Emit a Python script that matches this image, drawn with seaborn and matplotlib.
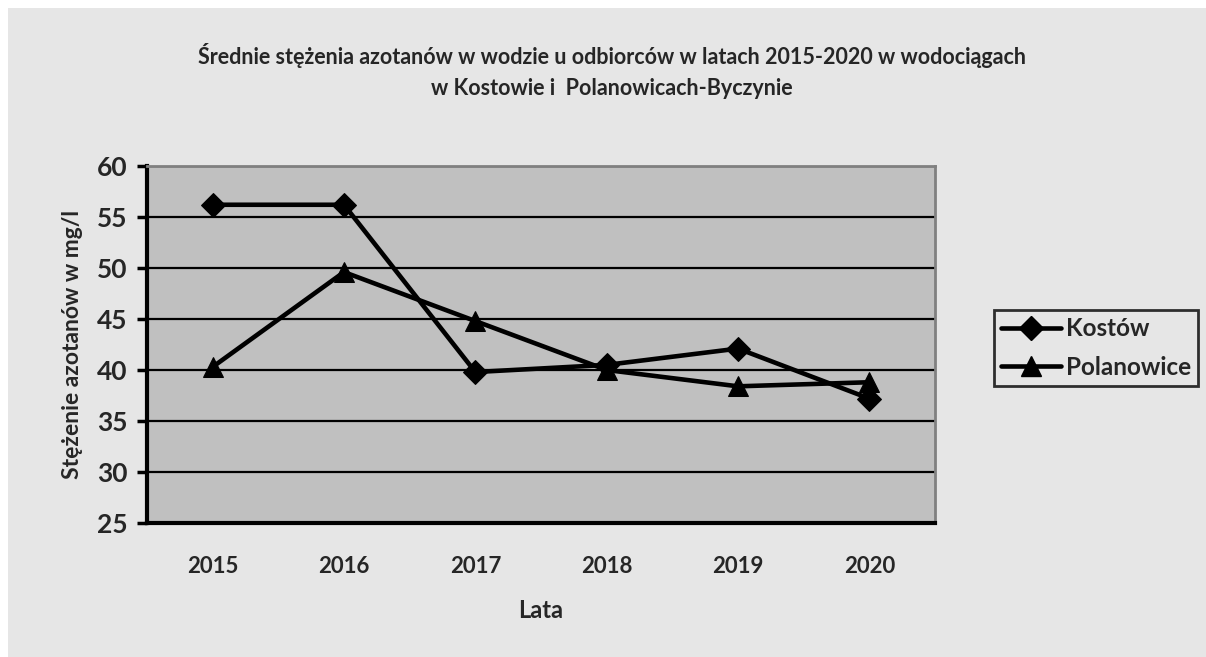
import matplotlib
matplotlib.use("Agg")
import matplotlib.pyplot as plt
import seaborn as sns
import pandas as pd
from matplotlib.patches import Rectangle
from matplotlib.lines import Line2D
from matplotlib.ticker import FixedLocator, NullFormatter

years = [2015, 2016, 2017, 2018, 2019, 2020]
kostow = [56.2, 56.2, 39.8, 40.5, 42.1, 37.2]
polanowice = [40.3, 49.6, 44.8, 40.0, 38.4, 38.8]
series_names = ["Kostów", "Polanowice"]
title = "Średnie stężenia azotanów w wodzie u odbiorców w latach 2015-2020 w wodociągach\nw Kostowie i  Polanowicach-Byczynie"
xlabel = "Lata"
ylabel = "Stężenie azotanów w mg/l"

df = pd.DataFrame({
    "year": years * 2,
    "value": kostow + polanowice,
    "series": [series_names[0]] * len(years) + [series_names[1]] * len(years),
})

sns.set_theme(style="white")
plt.rcParams["font.family"] = ["Lato", "DejaVu Sans"]
plt.rcParams["font.weight"] = "bold"

W, H = 1206, 657
BG = "#E6E6E6"
fig = plt.figure(figsize=(W / 100, H / 100), dpi=100, facecolor=BG)
# white strips at top and left edge
fig.patches.append(Rectangle((0, 1 - 8 / H), 1, 8 / H, transform=fig.transFigure,
                             facecolor="white", edgecolor="none", zorder=-5))
fig.patches.append(Rectangle((0, 0), 8 / W, 1, transform=fig.transFigure,
                             facecolor="white", edgecolor="none", zorder=-5))

ax = fig.add_axes([147 / W, 1 - 523 / H, (935 - 147) / W, (523 - 166) / H])
ax.set_facecolor("#C0C0C0")

sns.lineplot(data=df, x="year", y="value", hue="series", style="series",
             markers={"Kostów": "D", "Polanowice": "^"}, dashes=False,
             palette={"Kostów": "black", "Polanowice": "black"},
             linewidth=3.3, markersize=14, markeredgecolor="black",
             ax=ax, legend=False, zorder=3)
for ln in ax.lines:
    if ln.get_marker() == "D":
        ln.set_markersize(12.5)

ax.set_ylim(25, 60)
ax.set_yticks(range(25, 61, 5))
ax.set_xlim(years[0] - 0.5, years[-1] + 0.5)
ax.set_xticks(years)
ax.set_xticklabels([str(y) for y in years])
ax.xaxis.set_minor_locator(FixedLocator([y - 0.5 for y in years] + [years[-1] + 0.5]))
ax.xaxis.set_minor_formatter(NullFormatter())
ax.tick_params(axis="x", which="major", length=0, pad=24, labelsize=16)
ax.tick_params(axis="x", which="minor", length=7, width=1.5, color="black", direction="out")
ax.tick_params(axis="y", which="major", length=7, width=2.5, color="black", direction="out",
               labelsize=19, pad=7, left=True)
for lbl in ax.get_xticklabels() + ax.get_yticklabels():
    lbl.set_fontweight("bold")

ax.grid(axis="y", color="black", linewidth=1.6)
ax.set_axisbelow(True)
for side in ["top", "right"]:
    ax.spines[side].set_color("#808080")
    ax.spines[side].set_linewidth(2)
for side in ["left", "bottom"]:
    ax.spines[side].set_color("black")
    ax.spines[side].set_linewidth(3)

ax.set_xlabel(xlabel, fontsize=17, fontweight="bold", labelpad=0)
ax.xaxis.set_label_coords(0.5, -(610 - 523) / (523 - 166))
ax.xaxis.label.set_va("center")
ax.set_ylabel(ylabel, fontsize=16.5, fontweight="bold")
ax.yaxis.set_label_coords(-(147 - 73) / (935 - 147), 0.5)
ax.yaxis.label.set_va("center")

fig.text(612 / W, 1 - 71 / H, title, ha="center", va="center", fontsize=15.5,
         fontweight="bold", linespacing=1.55)

handles = [Line2D([], [], color="black", lw=3.3, marker="D", markersize=12),
           Line2D([], [], color="black", lw=3.3, marker="^", markersize=14)]
leg = fig.legend(handles, series_names, loc="center left",
                 bbox_to_anchor=(994 / W, 1 - 348 / H), borderaxespad=0,
                 frameon=True, prop={"size": 17.5, "weight": "bold"},
                 handlelength=2.45, handletextpad=0.2, borderpad=0.3,
                 labelspacing=0.65, fancybox=False)
leg.get_frame().set_edgecolor("black")
leg.get_frame().set_linewidth(2)
leg.get_frame().set_facecolor(BG)

fig.savefig("out.png", dpi=100, facecolor=fig.get_facecolor())
